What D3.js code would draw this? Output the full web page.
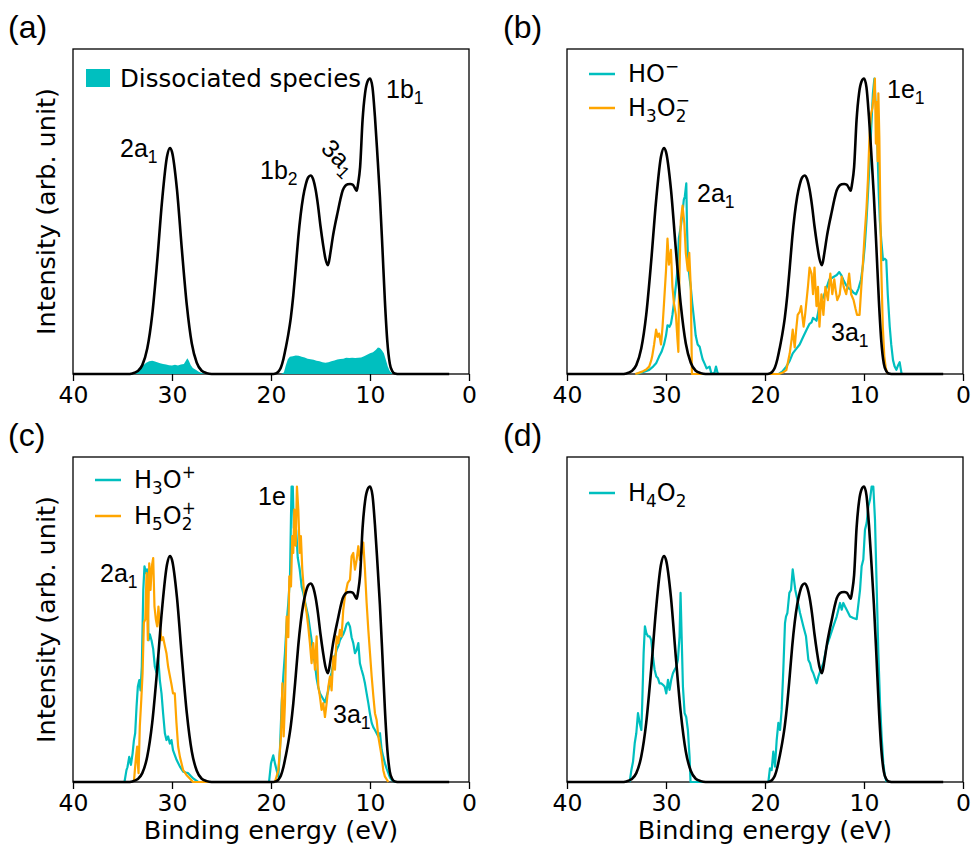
<!DOCTYPE html>
<html>
<head>
<meta charset="utf-8">
<script src="https://cdn.jsdelivr.net/npm/d3@7"></script>
<style>
  body { margin: 0; background: #fff; }
  text { fill: #000; }
</style>
</head>
<body>
<svg id="fig" width="972" height="845"></svg>
<script>
// binding energy (eV), intensity normalised to the 1b1 peak of the water reference
const waterRef = [
  [40, 0], [34.5, 0], [34, 0.002], [33.5, 0.009], [33, 0.03], [32.5, 0.086], [32, 0.2], [31.5, 0.38],
  [31, 0.587], [30.5, 0.737], [30.2, 0.765], [30, 0.752], [29.5, 0.625], [29, 0.42], [28.5, 0.232],
  [28, 0.103], [27.5, 0.038], [27, 0.011], [26.5, 0.003], [26, 0],
  [19.75, 0], [19.5, 0.002], [19.25, 0.008], [19, 0.022], [18.75, 0.05], [18.5, 0.09], [18.25, 0.135],
  [18, 0.19], [17.75, 0.265], [17.5, 0.36], [17.25, 0.46], [17, 0.54], [16.75, 0.6], [16.5, 0.64],
  [16.25, 0.665], [16, 0.672], [15.75, 0.66], [15.5, 0.625], [15.25, 0.57], [15, 0.5], [14.75, 0.44],
  [14.5, 0.39], [14.25, 0.368], [14, 0.41], [13.75, 0.465], [13.5, 0.51], [13.25, 0.55], [13, 0.59],
  [12.75, 0.622], [12.5, 0.637], [12.25, 0.642], [12, 0.643], [11.75, 0.641], [11.5, 0.628],
  [11.35, 0.62], [11.2, 0.645], [11, 0.7], [10.75, 0.86], [10.5, 0.95], [10.25, 0.99], [10, 1.0],
  [9.75, 0.97], [9.5, 0.87], [9.25, 0.74], [9, 0.6], [8.75, 0.43], [8.5, 0.25], [8.25, 0.11],
  [8, 0.035], [7.75, 0.01], [7.5, 0.002], [7, 0], [2, 0]
];

const dissociated = [
  [33.8, 0], [33.5, 0.008], [33.2, 0.02], [32.9, 0.03], [32.6, 0.038], [32.3, 0.043], [32.0, 0.045],
  [31.8, 0.043], [31.5, 0.04], [31.2, 0.036], [30.9, 0.034], [30.6, 0.032], [30.3, 0.03], [30.0, 0.029],
  [29.7, 0.031], [29.4, 0.029], [29.1, 0.032], [28.8, 0.034], [28.6, 0.045], [28.45, 0.053], [28.3, 0.045],
  [28.1, 0.03], [27.9, 0.02], [27.6, 0.014], [27.3, 0.008], [27, 0.003], [26.6, 0],
  [19.0, 0], [18.7, 0.005], [18.5, 0.03], [18.3, 0.05], [18.1, 0.058], [17.8, 0.06], [17.5, 0.063],
  [17.2, 0.062], [16.9, 0.058], [16.6, 0.056], [16.3, 0.052], [16.0, 0.05], [15.7, 0.048], [15.4, 0.045],
  [15.1, 0.043], [14.8, 0.04], [14.5, 0.038], [14.2, 0.04], [13.9, 0.043], [13.6, 0.046], [13.3, 0.049],
  [13.0, 0.051], [12.7, 0.052], [12.4, 0.055], [12.1, 0.054], [11.8, 0.055], [11.5, 0.054], [11.2, 0.055],
  [10.9, 0.056], [10.6, 0.06], [10.3, 0.065], [10.0, 0.07], [9.7, 0.074], [9.4, 0.082], [9.2, 0.09],
  [9.0, 0.088], [8.8, 0.08], [8.6, 0.07], [8.4, 0.048], [8.2, 0.025], [8.0, 0.01], [7.7, 0]
];

const hoMinus = [
  [33, 0], [32.7, 0.003], [32.2, 0.008], [31.7, 0.014], [31.3, 0.025], [31, 0.036], [30.7, 0.059],
  [30.45, 0.075], [30.2, 0.1], [30, 0.13], [29.85, 0.165], [29.65, 0.16], [29.5, 0.17], [29.35, 0.2],
  [29.2, 0.24], [29.0, 0.3], [28.85, 0.35], [28.7, 0.46], [28.5, 0.5], [28.35, 0.54], [28.2, 0.59],
  [28.1, 0.6], [27.95, 0.645], [27.88, 0.5], [27.8, 0.41], [27.7, 0.35], [27.6, 0.32], [27.5, 0.295],
  [27.35, 0.24], [27.15, 0.18], [27.0, 0.13], [26.8, 0.1], [26.6, 0.092], [26.45, 0.07], [26.3, 0.05],
  [26.1, 0.035], [25.9, 0.019], [25.6, 0.025], [25.4, 0], [25.1, 0.004], [24.95, 0.025], [24.8, 0.005], [24.7, 0],
  [18.6, 0], [18.2, 0.01], [17.85, 0.025], [17.5, 0.045], [17.2, 0.07], [16.85, 0.085], [16.5, 0.1],
  [16.15, 0.125], [15.8, 0.15], [15.5, 0.17], [15.3, 0.175], [15.15, 0.19], [14.95, 0.185], [14.8, 0.18],
  [14.65, 0.205], [14.5, 0.23], [14.25, 0.25], [14.0, 0.27], [13.75, 0.295], [13.5, 0.32], [13.25, 0.325],
  [13.0, 0.33], [12.75, 0.335], [12.5, 0.345], [12.3, 0.335], [12.1, 0.32], [11.95, 0.31], [11.8, 0.3],
  [11.55, 0.29], [11.3, 0.285], [11.05, 0.275], [10.8, 0.27], [10.55, 0.29], [10.3, 0.32], [10.1, 0.37],
  [9.93, 0.43], [9.75, 0.52], [9.6, 0.61], [9.43, 0.72], [9.26, 0.84], [9.1, 0.95], [8.95, 1.0],
  [8.85, 0.93], [8.75, 0.89], [8.6, 0.72], [8.5, 0.6], [8.4, 0.52], [8.25, 0.45], [8.08, 0.385],
  [7.9, 0.39], [7.75, 0.385], [7.6, 0.27], [7.4, 0.16], [7.25, 0.1], [7.07, 0.047], [6.9, 0.025],
  [6.73, 0.014], [6.55, 0.03], [6.4, 0.04], [6.3, 0.02], [6.2, 0]
];

const h3o2Minus = [
  [33.1, 0], [32.8, 0.003], [32.4, 0.008], [32.0, 0.015], [31.7, 0.025], [31.5, 0.045], [31.4, 0.059],
  [31.2, 0.1], [31.0, 0.15], [30.85, 0.126], [30.7, 0.137], [30.5, 0.1], [30.35, 0.16], [30.2, 0.24],
  [30.0, 0.35], [29.85, 0.458], [29.7, 0.37], [29.5, 0.42], [29.35, 0.295], [29.2, 0.24], [29.0, 0.2],
  [28.85, 0.12], [28.75, 0.075], [28.7, 0.24], [28.6, 0.4], [28.5, 0.52], [28.33, 0.57], [28.15, 0.51],
  [28.0, 0.41], [27.8, 0.35], [27.65, 0.41], [27.5, 0.295], [27.42, 0.1], [27.38, 0],
  [18.6, 0], [18.2, 0.005], [17.85, 0.013], [17.5, 0.07], [17.3, 0.12], [17.2, 0.15], [17.0, 0.09],
  [16.85, 0.15], [16.7, 0.2], [16.5, 0.21], [16.35, 0.23], [16.1, 0.16], [15.95, 0.2], [15.8, 0.25],
  [15.65, 0.3], [15.5, 0.36], [15.3, 0.34], [15.15, 0.27], [15.0, 0.36], [14.8, 0.23], [14.65, 0.295],
  [14.5, 0.16], [14.3, 0.27], [14.1, 0.2], [13.9, 0.295], [13.65, 0.25], [13.4, 0.34], [13.2, 0.27],
  [13.0, 0.32], [12.85, 0.28], [12.7, 0.25], [12.45, 0.27], [12.25, 0.33], [12.05, 0.295], [11.8, 0.27],
  [11.65, 0.3], [11.5, 0.34], [11.3, 0.27], [11.05, 0.25], [10.85, 0.22], [10.7, 0.2], [10.45, 0.2],
  [10.27, 0.295], [10.1, 0.38], [9.93, 0.475], [9.75, 0.56], [9.6, 0.66], [9.45, 0.8], [9.3, 0.88],
  [9.15, 0.9], [9.0, 0.95], [8.9, 1.0], [8.8, 0.78], [8.72, 0.92], [8.62, 0.72], [8.55, 0.95],
  [8.45, 0.8], [8.35, 0.55], [8.25, 0.35], [8.1, 0.16], [7.95, 0.06], [7.8, 0.02], [7.6, 0]
];

const h3oPlus = [
  [34.8, 0], [34.6, 0.04], [34.5, 0.05], [34.32, 0.085], [34.15, 0.058], [33.98, 0.097], [33.85, 0.14],
  [33.72, 0.165], [33.58, 0.255], [33.45, 0.323], [33.3, 0.345], [33.18, 0.31], [33.05, 0.39], [32.9, 0.65],
  [32.78, 0.73], [32.64, 0.707], [32.52, 0.72], [32.45, 0.6], [32.37, 0.48], [32.24, 0.5], [32.07, 0.48],
  [31.9, 0.45], [31.73, 0.39], [31.56, 0.37], [31.4, 0.425], [31.23, 0.345], [31.06, 0.3], [30.9, 0.233],
  [30.72, 0.165], [30.56, 0.142], [30.39, 0.154], [30.22, 0.13], [30.05, 0.142], [29.9, 0.108],
  [29.54, 0.075], [29.2, 0.052], [28.87, 0.035], [28.6, 0.032], [28.37, 0.03], [28.1, 0.02], [27.86, 0.012], [27.35, 0],
  [20.2, 0], [20.0, 0.063], [19.77, 0.09], [19.6, 0.063], [19.43, 0.04], [19.26, 0.018], [19.1, 0.108],
  [18.92, 0.267], [18.76, 0.357], [18.59, 0.436], [18.42, 0.538], [18.25, 0.606], [18.08, 0.696],
  [17.98, 0.9], [17.92, 1.0], [17.8, 1.0], [17.7, 0.86], [17.6, 0.88], [17.45, 0.85], [17.3, 0.76],
  [17.1, 0.72], [16.9, 0.66], [16.74, 0.64], [16.5, 0.6], [16.24, 0.56], [16.07, 0.52], [15.9, 0.48],
  [15.73, 0.43], [15.56, 0.4], [15.39, 0.35], [15.22, 0.32], [15.06, 0.3], [14.89, 0.29], [14.72, 0.28],
  [14.55, 0.27], [14.38, 0.29], [14.21, 0.31], [14.04, 0.35], [13.88, 0.37], [13.71, 0.4], [13.54, 0.425],
  [13.37, 0.447], [13.2, 0.46], [13.04, 0.48], [12.87, 0.49], [12.7, 0.5], [12.53, 0.515], [12.36, 0.535],
  [12.2, 0.54], [12.02, 0.526], [11.86, 0.49], [11.69, 0.47], [11.52, 0.436], [11.35, 0.447], [11.18, 0.47],
  [11.02, 0.402], [10.85, 0.38], [10.68, 0.36], [10.51, 0.334], [10.34, 0.3], [10.17, 0.267], [10.0, 0.23],
  [9.83, 0.2], [9.66, 0.185], [9.5, 0.176], [9.33, 0.165], [9.16, 0.154], [8.99, 0.165], [8.82, 0.108],
  [8.66, 0.085], [8.49, 0.063], [8.32, 0.045], [8.15, 0.03], [7.98, 0.015], [7.81, 0.007], [7.47, 0]
];

const h5o2Plus = [
  [33.85, 0], [33.75, 0.04], [33.65, 0.08], [33.52, 0.12], [33.45, 0.06], [33.38, 0.03], [33.25, 0.19],
  [33.1, 0.28], [32.97, 0.37], [32.84, 0.54], [32.7, 0.55], [32.57, 0.707], [32.44, 0.48], [32.3, 0.74],
  [32.17, 0.65], [32.04, 0.73], [31.9, 0.758], [31.77, 0.594], [31.63, 0.55], [31.5, 0.527], [31.37, 0.594],
  [31.23, 0.527], [31.06, 0.48], [30.9, 0.49], [30.72, 0.46], [30.56, 0.436], [30.39, 0.39], [30.22, 0.36],
  [30.05, 0.33], [29.9, 0.3], [29.72, 0.3], [29.55, 0.2], [29.38, 0.12], [29.2, 0.085], [28.87, 0.04],
  [28.54, 0.024], [28.2, 0.012], [27.87, 0],
  [19.6, 0], [19.26, 0.04], [18.99, 0.154], [18.85, 0.334], [18.72, 0.154], [18.59, 0.267], [18.42, 0.56],
  [18.25, 0.49], [18.15, 0.696], [17.98, 0.662], [17.85, 0.832], [17.75, 0.775], [17.65, 0.922], [17.51, 0.8],
  [17.38, 1.0], [17.24, 0.922], [17.1, 0.775], [16.98, 0.832], [16.84, 0.72], [16.71, 0.662], [16.57, 0.606],
  [16.4, 0.572], [16.24, 0.527], [16.07, 0.47], [15.9, 0.402], [15.73, 0.47], [15.56, 0.38], [15.39, 0.493],
  [15.22, 0.323], [15.06, 0.29], [14.89, 0.244], [14.72, 0.267], [14.55, 0.22], [14.38, 0.267], [14.21, 0.323],
  [14.04, 0.357], [13.88, 0.31], [13.71, 0.425], [13.54, 0.38], [13.37, 0.493], [13.2, 0.47], [13.04, 0.515],
  [12.87, 0.493], [12.7, 0.583], [12.53, 0.628], [12.26, 0.673], [12.02, 0.685], [11.86, 0.764], [11.69, 0.775],
  [11.52, 0.719], [11.35, 0.752], [11.18, 0.798], [11.02, 0.752], [10.85, 0.775], [10.68, 0.81], [10.51, 0.719],
  [10.34, 0.606], [10.17, 0.515], [10.0, 0.436], [9.83, 0.357], [9.66, 0.29], [9.5, 0.233], [9.33, 0.21],
  [9.16, 0.154], [8.99, 0.12], [8.82, 0.086], [8.66, 0.04], [8.49, 0.018], [8.15, 0]
];

const h4o2 = [
  [33.67, 0], [33.5, 0.04], [33.33, 0.069], [33.16, 0.131], [33.0, 0.165], [32.83, 0.233], [32.66, 0.2],
  [32.49, 0.176], [32.4, 0.267], [32.26, 0.436], [32.13, 0.527], [31.99, 0.504], [31.82, 0.493],
  [31.65, 0.493], [31.49, 0.48], [31.32, 0.425], [31.15, 0.38], [30.98, 0.357], [30.81, 0.351],
  [30.65, 0.334], [30.48, 0.334], [30.31, 0.329], [30.14, 0.323], [29.97, 0.3], [29.8, 0.346],
  [29.64, 0.312], [29.47, 0.346], [29.3, 0.368], [29.13, 0.38], [28.96, 0.39], [28.8, 0.413],
  [28.63, 0.493], [28.53, 0.64], [28.42, 0.493], [28.29, 0.323], [28.12, 0.233], [27.96, 0.22],
  [27.79, 0.176], [27.62, 0.086], [27.52, 0],
  [19.66, 0], [19.5, 0.046], [19.33, 0.04], [19.16, 0.103], [18.99, 0.052], [18.82, 0.142], [18.65, 0.2],
  [18.48, 0.176], [18.32, 0.244], [18.15, 0.38], [17.98, 0.538], [17.88, 0.56], [17.74, 0.572], [17.54, 0.64],
  [17.37, 0.65], [17.2, 0.72], [17.07, 0.685], [16.94, 0.65], [16.8, 0.628], [16.46, 0.572], [16.13, 0.527],
  [15.86, 0.493], [15.62, 0.413], [15.45, 0.402], [15.29, 0.38], [15.12, 0.368], [14.95, 0.351],
  [14.78, 0.334], [14.61, 0.357], [14.44, 0.374], [14.11, 0.402], [13.77, 0.459], [13.43, 0.493],
  [13.1, 0.527], [12.76, 0.56], [12.42, 0.606], [12.25, 0.583], [12.09, 0.606], [11.92, 0.594],
  [11.75, 0.583], [11.41, 0.56], [11.08, 0.555], [10.74, 0.551], [10.4, 0.65], [10.24, 0.73], [10.07, 0.753],
  [9.9, 0.854], [9.73, 0.877], [9.56, 0.933], [9.39, 0.956], [9.23, 1.0], [9.06, 1.0], [8.89, 0.888],
  [8.72, 0.662], [8.55, 0.436], [8.38, 0.267], [8.22, 0.154], [8.05, 0.063], [7.88, 0.018], [7.71, 0]
];

const majorTicks = [40, 30, 20, 10, 0];
const minorTicks = [35, 25, 15, 5];

const teal = "#00bfbf", orange = "#ffa500";
const W = 396, H = 325;
const svg = d3.select("#fig");

const x = d3.scaleLinear().domain([40, 0]).range([0, W]);
const y = d3.scaleLinear().domain([0, 1.1]).range([H, 0]);
const lineRaw = d3.line().x(d => x(d[0])).y(d => y(d[1]));
const lineSmooth = d3.line().curve(d3.curveMonotoneX).x(d => x(d[0])).y(d => y(d[1]));
const area = d3.area().x(d => x(d[0])).y0(y(0)).y1(d => y(d[1]));

// text with sub / superscripts, parts = [[str, kind]], kind "sub" | "sup" | "over" (sup stacked on prev)
function rich(t, parts, size, sub = 0.27, sup = 0.42) {
  let prev = 0, last = null;
  parts.forEach(([s, k]) => {
    let off = 0;
    if (k === "sub") off = sub * size;
    if (k === "sup" || k === "over") off = -sup * size;
    const ts = t.append("tspan").text(s)
      .attr("font-size", k ? size * 0.7 : size)
      .attr("dy", off - prev);
    if (k === "over" && last) ts.attr("dx", -last.node().getComputedTextLength());
    prev = off;
    last = ts;
  });
}

function annot(g, px, py, parts, rot) {
  const t = g.append("text")
    .attr("font-family", "'Liberation Sans', Arial, sans-serif")
    .attr("font-size", 25);
  if (rot) t.attr("transform", `translate(${px},${py}) rotate(${rot})`).attr("text-anchor", "middle");
  else t.attr("x", px).attr("y", py);
  rich(t, parts, 25, 0.22);
}

function makePanel(left, top, tag, tagX, tagY) {
  const g = svg.append("g").attr("transform", `translate(${left},${top})`);
  svg.append("text").attr("x", tagX).attr("y", tagY)
    .attr("font-family", "'Liberation Sans', Arial, sans-serif")
    .attr("font-size", 32).text(tag);

  const ax = g.append("g").attr("transform", `translate(0,${H})`);
  ax.call(d3.axisBottom(x).tickValues(minorTicks).tickSize(4).tickFormat(""));
  ax.call(d3.axisBottom(x).tickValues(majorTicks).tickSize(7).tickFormat(d3.format("d")));
  ax.select(".domain").remove();
  ax.selectAll("line").attr("stroke", "#000").attr("stroke-width", 1.3);
  ax.selectAll("text")
    .attr("y", 29).attr("dy", 0)
    .attr("font-family", "'DejaVu Sans', sans-serif")
    .attr("font-size", 23.5).attr("fill", "#000");

  g.append("rect").attr("width", W).attr("height", H)
    .attr("fill", "none").attr("stroke", "#000").attr("stroke-width", 1.3);
  return g;
}

function legendLine(g, ly, color, parts) {
  g.append("line").attr("x1", 22).attr("x2", 48).attr("y1", ly).attr("y2", ly)
    .attr("stroke", color).attr("stroke-width", 2.5);
  const t = g.append("text").attr("x", 61).attr("y", ly + 8)
    .attr("font-family", "'DejaVu Sans', sans-serif").attr("font-size", 24);
  rich(t, parts, 24);
}

function curve(g, data, color, w) {
  g.append("path").datum(data).attr("d", lineRaw)
    .attr("fill", "none").attr("stroke", color).attr("stroke-width", w)
    .attr("stroke-linejoin", "round");
}

function reference(g) {
  g.append("path").datum(waterRef).attr("d", lineSmooth)
    .attr("fill", "none").attr("stroke", "#000").attr("stroke-width", 2.6)
    .attr("stroke-linejoin", "round");
}

// (a)
const pa = makePanel(73, 49, "(a)", 8, 38);
pa.append("path").datum(dissociated).attr("d", area).attr("fill", teal);
reference(pa);
pa.append("rect").attr("x", 13).attr("y", 20).attr("width", 24).attr("height", 18).attr("fill", teal);
pa.append("text").attr("x", 47).attr("y", 38)
  .attr("font-family", "'DejaVu Sans', sans-serif").attr("font-size", 24.5)
  .text("Dissociated species");
annot(svg, 120, 157, [["2a"], ["1", "sub"]]);
annot(svg, 260, 179, [["1b"], ["2", "sub"]]);
annot(svg, 333, 163, [["3a"], ["1", "sub"]], 45);
annot(svg, 386, 98, [["1b"], ["1", "sub"]]);

// (b)
const pb = makePanel(567, 49, "(b)", 503, 38);
curve(pb, hoMinus, teal, 2.2);
curve(pb, h3o2Minus, orange, 2.2);
reference(pb);
legendLine(pb, 25, teal, [["HO"], ["\u2212", "sup"]]);
legendLine(pb, 59, orange, [["H"], ["3", "sub"], ["O"], ["2", "sub"], ["\u2212", "over"]]);
annot(svg, 697, 202, [["2a"], ["1", "sub"]]);
annot(svg, 831, 341, [["3a"], ["1", "sub"]]);
annot(svg, 887, 98, [["1e"], ["1", "sub"]]);

// (c)
const pc = makePanel(73, 457, "(c)", 8, 446);
curve(pc, h3oPlus, teal, 2.2);
curve(pc, h5o2Plus, orange, 2.2);
reference(pc);
legendLine(pc, 23, teal, [["H"], ["3", "sub"], ["O"], ["+", "sup"]]);
legendLine(pc, 59, orange, [["H"], ["5", "sub"], ["O"], ["2", "sub"], ["+", "over"]]);
annot(svg, 100, 582, [["2a"], ["1", "sub"]]);
annot(svg, 258, 505, [["1e"]]);
annot(svg, 333, 723, [["3a"], ["1", "sub"]]);

// (d)
const pd = makePanel(567, 457, "(d)", 503, 446);
curve(pd, h4o2, teal, 2.2);
reference(pd);
legendLine(pd, 36, teal, [["H"], ["4", "sub"], ["O"], ["2", "sub"]]);

// axis titles
[211.5, 619.5].forEach(cy => {
  svg.append("text").attr("transform", `translate(55,${cy}) rotate(-90)`)
    .attr("text-anchor", "middle")
    .attr("font-family", "'DejaVu Sans', sans-serif").attr("font-size", 25.5)
    .text("Intensity (arb. unit)");
});
[271, 765].forEach(cx => {
  svg.append("text").attr("x", cx).attr("y", 839)
    .attr("text-anchor", "middle")
    .attr("font-family", "'DejaVu Sans', sans-serif").attr("font-size", 25.5)
    .text("Binding energy (eV)");
});
</script>
</body>
</html>
